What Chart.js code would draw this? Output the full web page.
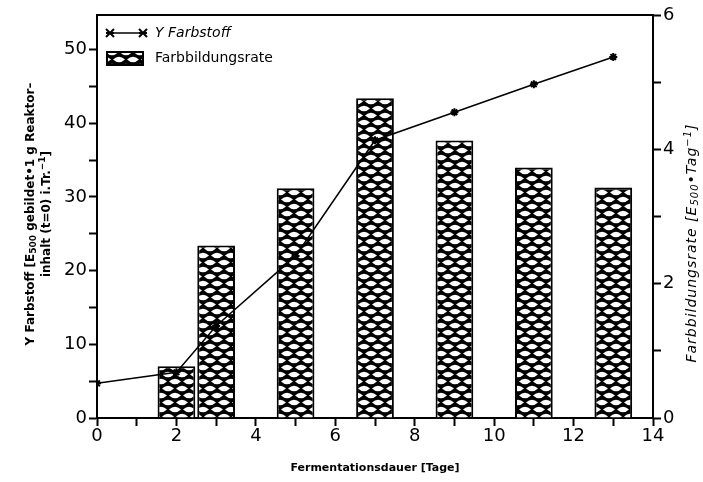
<!DOCTYPE html>
<html>
<head>
<meta charset="utf-8">
<script src="https://cdn.jsdelivr.net/npm/chart.js@4.4.1/dist/chart.umd.min.js"></script>
<style>
  html, body { margin: 0; padding: 0; background: #fff; }
  #farbChart { display: block; }
</style>
</head>
<body>
<canvas id="farbChart" width="703" height="482"></canvas>
<script>
// data
const days = [0, 2, 3, 5, 7, 9, 11, 13];
const farbstoff = [4.7, 6.2, 12.5, 22, 37.7, 41.5, 45.3, 49.0];   // left axis
const rateDays = [2, 3, 5, 7, 9, 11, 13];
const rate = [0.77, 2.57, 3.42, 4.76, 4.13, 3.73, 3.43];          // right axis

// tick labels
const xLabels = [0, 2, 4, 6, 8, 10, 12, 14];
const yLabels = [0, 10, 20, 30, 40, 50];
const y2Labels = [0, 2, 4, 6];

const TICK_FONT = { family: "DejaVu Sans", size: 18 };

// chain-link hatch used for the bars
function makePattern() {
  const t = document.createElement("canvas");
  t.width = 14;
  t.height = 14;
  const c = t.getContext("2d");
  c.fillStyle = "#000";
  c.fillRect(0, 0, 14, 14);
  c.fillStyle = "#fff";
  const lens = (cx, cy, w, h) => {
    c.beginPath();
    c.moveTo(cx - w / 2, cy);
    c.quadraticCurveTo(cx, cy - h, cx + w / 2, cy);
    c.quadraticCurveTo(cx, cy + h, cx - w / 2, cy);
    c.fill();
  };
  lens(7, 3.5, 12, 5.5);
  lens(0, 10.5, 12, 5.5);
  lens(14, 10.5, 12, 5.5);
  return document.getElementById("farbChart").getContext("2d").createPattern(t, "repeat");
}
const hatch = makePattern();

// text with sub/superscript parts, centred on (0,0) of the current transform
// parts: [text, dy] ; dy != 0 -> small font shifted
function richText(ctx, parts, font, smallFont, y) {
  const widths = parts.map(([t, dy]) => {
    ctx.font = dy ? smallFont : font;
    return ctx.measureText(t).width;
  });
  let x = -widths.reduce((s, w) => s + w, 0) / 2;
  parts.forEach(([t, dy], i) => {
    ctx.font = dy ? smallFont : font;
    ctx.fillText(t, x, y + dy);
    x += widths[i];
  });
}

// frame top, axis titles, legend
const extras = {
  id: "extras",
  afterDraw(chart) {
    const ctx = chart.ctx;
    const a = chart.chartArea;
    ctx.save();
    ctx.strokeStyle = "#000";
    ctx.lineWidth = 2;
    ctx.beginPath();
    ctx.moveTo(a.left, a.top);
    ctx.lineTo(a.right, a.top);
    ctx.stroke();

    ctx.fillStyle = "#000";
    ctx.textBaseline = "middle";

    // x title
    ctx.font = 'bold 11px "DejaVu Sans"';
    ctx.textAlign = "center";
    ctx.fillText("Fermentationsdauer [Tage]", (a.left + a.right) / 2, 468);

    ctx.textAlign = "left";
    // left title (two lines, centred)
    ctx.save();
    ctx.translate(31, 214);
    ctx.rotate(-Math.PI / 2);
    const lf = 'bold 12px "DejaVu Sans"', ls = 'bold 9px "DejaVu Sans"';
    richText(ctx, [["Y Farbstoff [E", 0], ["500", 3], [" gebildet\u20221 g Reaktor\u2013", 0]], lf, ls, 0);
    richText(ctx, [["inhalt (t=0) i.Tr.", 0], ["\u22121", -4], ["]", 0]], lf, ls, 16);
    ctx.restore();

    // right title
    ctx.save();
    ctx.translate(692, 243);
    ctx.rotate(-Math.PI / 2);
    ctx.letterSpacing = "1px";
    richText(ctx, [["Farbbildungsrate [E", 0], ["500", 3], ["\u2022Tag", 0], ["\u22121", -4], ["]", 0]],
      'italic 14px "DejaVu Sans"', 'italic 10px "DejaVu Sans"', 0);
    ctx.letterSpacing = "0px";
    ctx.restore();

    // legend
    const lx = 110, ly = 33;
    ctx.lineWidth = 1.5;
    ctx.beginPath();
    ctx.moveTo(lx, ly);
    ctx.lineTo(lx + 33, ly);
    ctx.stroke();
    [lx, lx + 33].forEach(px => {
      ctx.lineWidth = 2;
      ctx.beginPath();
      ctx.moveTo(px - 4, ly - 4); ctx.lineTo(px + 4, ly + 4);
      ctx.moveTo(px - 4, ly + 4); ctx.lineTo(px + 4, ly - 4);
      ctx.moveTo(px - 4, ly); ctx.lineTo(px + 4, ly);
      ctx.stroke();
    });
    ctx.font = 'italic 14px "DejaVu Sans"';
    ctx.textAlign = "left";
    ctx.fillText("Y Farbstoff", lx + 45, ly);

    ctx.fillStyle = hatch;
    ctx.fillRect(lx - 3, 52, 36, 13);
    ctx.lineWidth = 2;
    ctx.strokeRect(lx - 3, 52, 36, 13);
    ctx.fillStyle = "#000";
    ctx.font = '14px "DejaVu Sans"';
    ctx.fillText("Farbbildungsrate", lx + 45, 58);
    ctx.restore();
  }
};

const axisCommon = {
  grid: { drawOnChartArea: false, drawTicks: true, tickLength: 8, tickWidth: 2, color: "#000" },
  border: { display: true, color: "#000", width: 2 }
};

new Chart(document.getElementById("farbChart"), {
  type: "bar",
  data: {
    datasets: [
      {
        type: "line",
        label: "Y Farbstoff",
        data: days.map((d, i) => ({ x: d, y: farbstoff[i] })),
        xAxisID: "x",
        yAxisID: "y",
        borderColor: "#000",
        borderWidth: 1.5,
        pointStyle: "star",
        pointRadius: 4,
        pointBorderWidth: 2,
        pointBorderColor: "#000",
        pointBackgroundColor: "#000",
        tension: 0,
        order: 0
      },
      {
        type: "bar",
        label: "Farbbildungsrate",
        data: rateDays.map((d, i) => ({ x: d, y: rate[i] })),
        xAxisID: "x",
        yAxisID: "y2",
        backgroundColor: hatch,
        borderColor: "#000",
        borderWidth: 2,
        barPercentage: 1,
        categoryPercentage: 0.95,
        order: 1
      }
    ]
  },
  options: {
    responsive: false,
    animation: false,
    devicePixelRatio: 1,
    layout: { autoPadding: false, padding: { top: 15, left: 0, right: 0, bottom: 0 } },
    plugins: { legend: { display: false }, tooltip: { enabled: false } },
    scales: {
      x: {
        type: "linear",
        position: "bottom",
        min: 0,
        max: 14,
        offset: false,
        ...axisCommon,
        grid: { ...axisCommon.grid, offset: false },
        ticks: {
          stepSize: 1,
          autoSkip: false,
          maxRotation: 0,
          color: "#000",
          font: TICK_FONT,
          padding: 0,
          callback: v => xLabels.includes(v) ? v : ""
        },
        afterFit(s) { s.height = 64; }
      },
      y: {
        type: "linear",
        position: "left",
        min: 0,
        max: 54.7,
        ...axisCommon,
        ticks: {
          stepSize: 5,
          includeBounds: false,
          color: "#000",
          font: TICK_FONT,
          padding: 2,
          callback: v => yLabels.includes(v) ? v : ""
        },
        afterFit(s) { s.width = 97; }
      },
      y2: {
        type: "linear",
        position: "right",
        min: 0,
        max: 6,
        ...axisCommon,
        ticks: {
          stepSize: 1,
          color: "#000",
          font: TICK_FONT,
          padding: 2,
          callback: v => y2Labels.includes(v) ? v : ""
        },
        afterFit(s) { s.width = 50; }
      }
    }
  },
  plugins: [extras]
});
</script>
</body>
</html>
